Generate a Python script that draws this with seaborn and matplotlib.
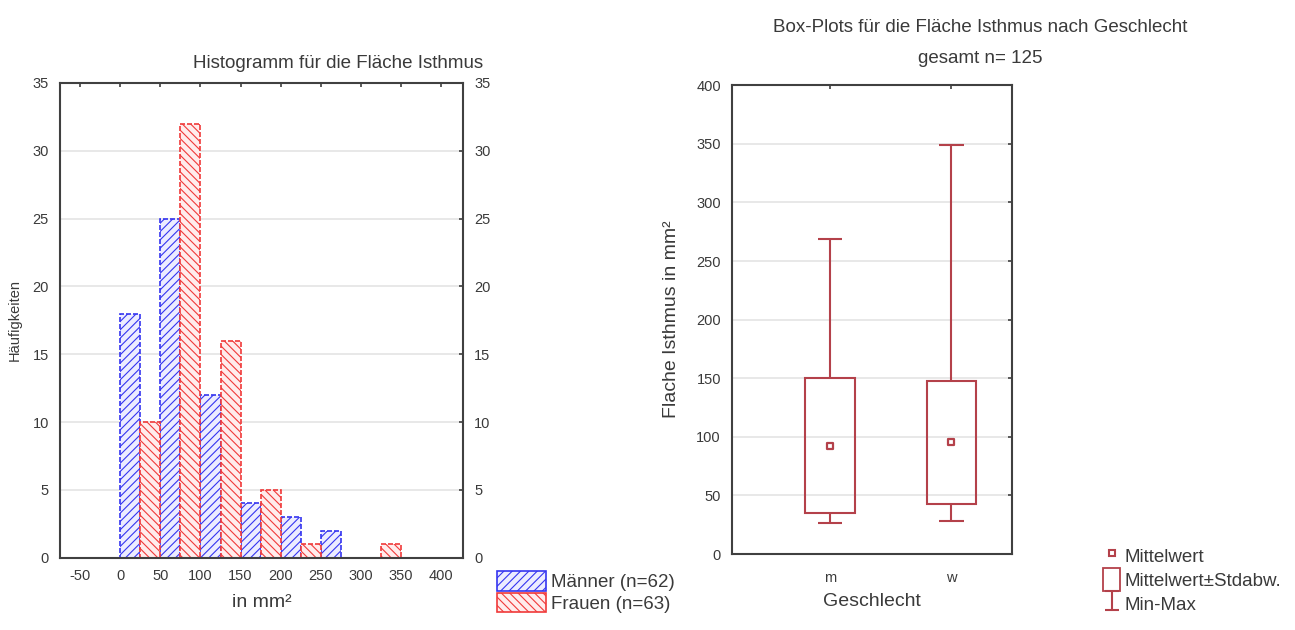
import numpy as np
import pandas as pd
import matplotlib
matplotlib.use("Agg")
import matplotlib.pyplot as plt
import seaborn as sns
from matplotlib.patches import Patch
from matplotlib.lines import Line2D

# ---- histogram data (counts per 25 mm² half-bin) ----
bin_left_m = [0, 50, 100, 150, 200, 250]
counts_m = [18, 25, 12, 4, 3, 2]
bin_left_w = [25, 75, 125, 175, 225, 325]
counts_w = [10, 32, 16, 5, 1, 1]
label_m = "Männer (n=62)"
label_w = "Frauen (n=63)"
hist_xticks = [-50, 0, 50, 100, 150, 200, 250, 300, 350, 400]
hist_yticks = [0, 5, 10, 15, 20, 25, 30, 35]

# ---- summary statistics per sex ----
groups = ["m", "w"]
means = [92.5, 95.3]
sds = [57.5, 52.3]
mins = [26.5, 28.2]
maxs = [269, 349]
box_yticks = [0, 50, 100, 150, 200, 250, 300, 350, 400]

sns.set_style("white")
plt.rcParams["font.family"] = ["Liberation Sans Narrow", "Liberation Sans", "DejaVu Sans"]
plt.rcParams["hatch.linewidth"] = 0.8
plt.rcParams["axes.unicode_minus"] = False

TXT = "#3a3a3a"
SPINE = "#404040"
BLUE = "#3535f0"
RED = "#f03a3a"
BOXC = "#b4414a"

fig = plt.figure(figsize=(12.95, 6.30), dpi=100)

# ================= histogram =================
ax = fig.add_axes([0.0463, 0.1148, 0.3112, 0.7535])

def draw_hist(lefts, counts, edge, face, hatch):
    df = pd.DataFrame({"x": np.asarray(lefts, dtype=float) + 12.5,
                       "n": np.asarray(counts, dtype=float)})
    n0 = len(ax.patches)
    sns.histplot(data=df, x="x", weights="n", binwidth=25, binrange=(0, 375),
                 ax=ax, color=edge, legend=False)
    for p in list(ax.patches[n0:]):
        if p.get_height() == 0:
            p.remove()
            continue
        p.set_alpha(1)
        p.set_facecolor(face)
        p.set_edgecolor(edge)
        p.set_hatch(hatch)
        p.set_linewidth(1.2)
        p.set_linestyle((0, (3, 1.2)))

draw_hist(bin_left_m, counts_m, BLUE, "#ececff", "////")
draw_hist(bin_left_w, counts_w, RED, "#ffecec", "\\\\\\\\")

ax.set_xlim(-75, 427)
ax.set_ylim(0, 35)
ax.set_xticks(hist_xticks)
ax.set_yticks(hist_yticks)
ax.yaxis.grid(True, color="#e4e4e4", lw=1.2)
ax.set_axisbelow(True)
ax.tick_params(axis="both", direction="in", length=3, width=1.2, color=SPINE,
               labelsize=10.5, labelcolor=TXT, top=True, right=True,
               labelright=True, pad=8)
for s in ax.spines.values():
    s.set_color(SPINE)
    s.set_linewidth(1.5)
ax.set_xlabel("in mm²", fontsize=14, color=TXT, labelpad=8)
ax.set_ylabel("Häufigkeiten", fontsize=10.5, color=TXT, labelpad=8)
ax.set_title("Histogramm für die Fläche Isthmus", fontsize=13.5, color=TXT,
             x=0.69, pad=11)

hist_handles = [
    Patch(facecolor="#ececff", edgecolor=BLUE, hatch="////", lw=1.2),
    Patch(facecolor="#ffecec", edgecolor=RED, hatch="\\\\\\\\", lw=1.2),
]
fig.legend(hist_handles, [label_m, label_w], loc="upper left",
           bbox_to_anchor=(0.378, 0.105), frameon=False, fontsize=13.5,
           handlelength=2.6, handleheight=1.2, handletextpad=0.3,
           labelspacing=0.1, borderaxespad=0, labelcolor=TXT)

# ================= mean ± SD plot =================
bx = fig.add_axes([0.5653, 0.1206, 0.2162, 0.744])
stats = pd.DataFrame({"Geschlecht": groups, "mean": means, "sd": sds,
                      "min": mins, "max": maxs})
pos = np.arange(len(groups))
lo = (stats["mean"] - stats["sd"]).values
hi = (stats["mean"] + stats["sd"]).values

bx.bar(pos, hi - lo, bottom=lo, width=0.41, fill=False,
       edgecolor=BOXC, linewidth=1.5, zorder=3)
bx.vlines(pos, stats["min"], lo, color=BOXC, lw=1.5, zorder=3)
bx.vlines(pos, hi, stats["max"], color=BOXC, lw=1.5, zorder=3)
bx.hlines(stats["min"], pos - 0.1, pos + 0.1, color=BOXC, lw=1.5, zorder=3)
bx.hlines(stats["max"], pos - 0.1, pos + 0.1, color=BOXC, lw=1.5, zorder=3)
sns.scatterplot(data=stats, x="Geschlecht", y="mean", ax=bx, marker="s", s=22,
                facecolor="white", edgecolor=BOXC, linewidth=1.6, zorder=4,
                legend=False)

bx.set_xticks(pos)
bx.set_xticklabels(groups)
bx.set_xlim(-0.81, 1.5)
bx.set_ylim(0, 400)
bx.set_yticks(box_yticks)
bx.yaxis.grid(True, color="#e4e4e4", lw=1.2)
bx.set_axisbelow(True)
bx.tick_params(axis="both", direction="in", length=3, width=1.2, color=SPINE,
               labelsize=10.5, labelcolor=TXT, top=True, right=True, pad=8)
bx.tick_params(axis="x", pad=12)
for s in bx.spines.values():
    s.set_color(SPINE)
    s.set_linewidth(1.5)
bx.set_xlabel("Geschlecht", fontsize=14, color=TXT, labelpad=6)
bx.set_ylabel("Flache Isthmus in mm²", fontsize=14, color=TXT, labelpad=12)
fig.text(0.757, 0.957, "Box-Plots für die Fläche Isthmus nach Geschlecht",
         ha="center", va="center", fontsize=13.5, color=TXT)
fig.text(0.757, 0.907, "gesamt n= 125", ha="center", va="center",
         fontsize=13.5, color=TXT)

# legend handles: mean marker, SD box, min-max bar
eb = bx.errorbar([0], [-1000], yerr=[[10], [10]], fmt="none", ecolor=BOXC,
                 elinewidth=1.5, capsize=5, capthick=1.5)
box_handles = [
    Line2D([], [], marker="s", ls="none", markersize=5, markerfacecolor="white",
           markeredgecolor=BOXC, markeredgewidth=1.5),
    Patch(facecolor="white", edgecolor=BOXC, lw=1.3),
    eb,
]
fig.legend(box_handles, ["Mittelwert", "Mittelwert±Stdabw.", "Min-Max"],
           loc="upper left", bbox_to_anchor=(0.846, 0.148), frameon=False,
           fontsize=13.5, handlelength=0.9, handleheight=1.5,
           handletextpad=0.25, labelspacing=0.05, borderaxespad=0,
           labelcolor=TXT)

fig.savefig("out.png", dpi=100)
